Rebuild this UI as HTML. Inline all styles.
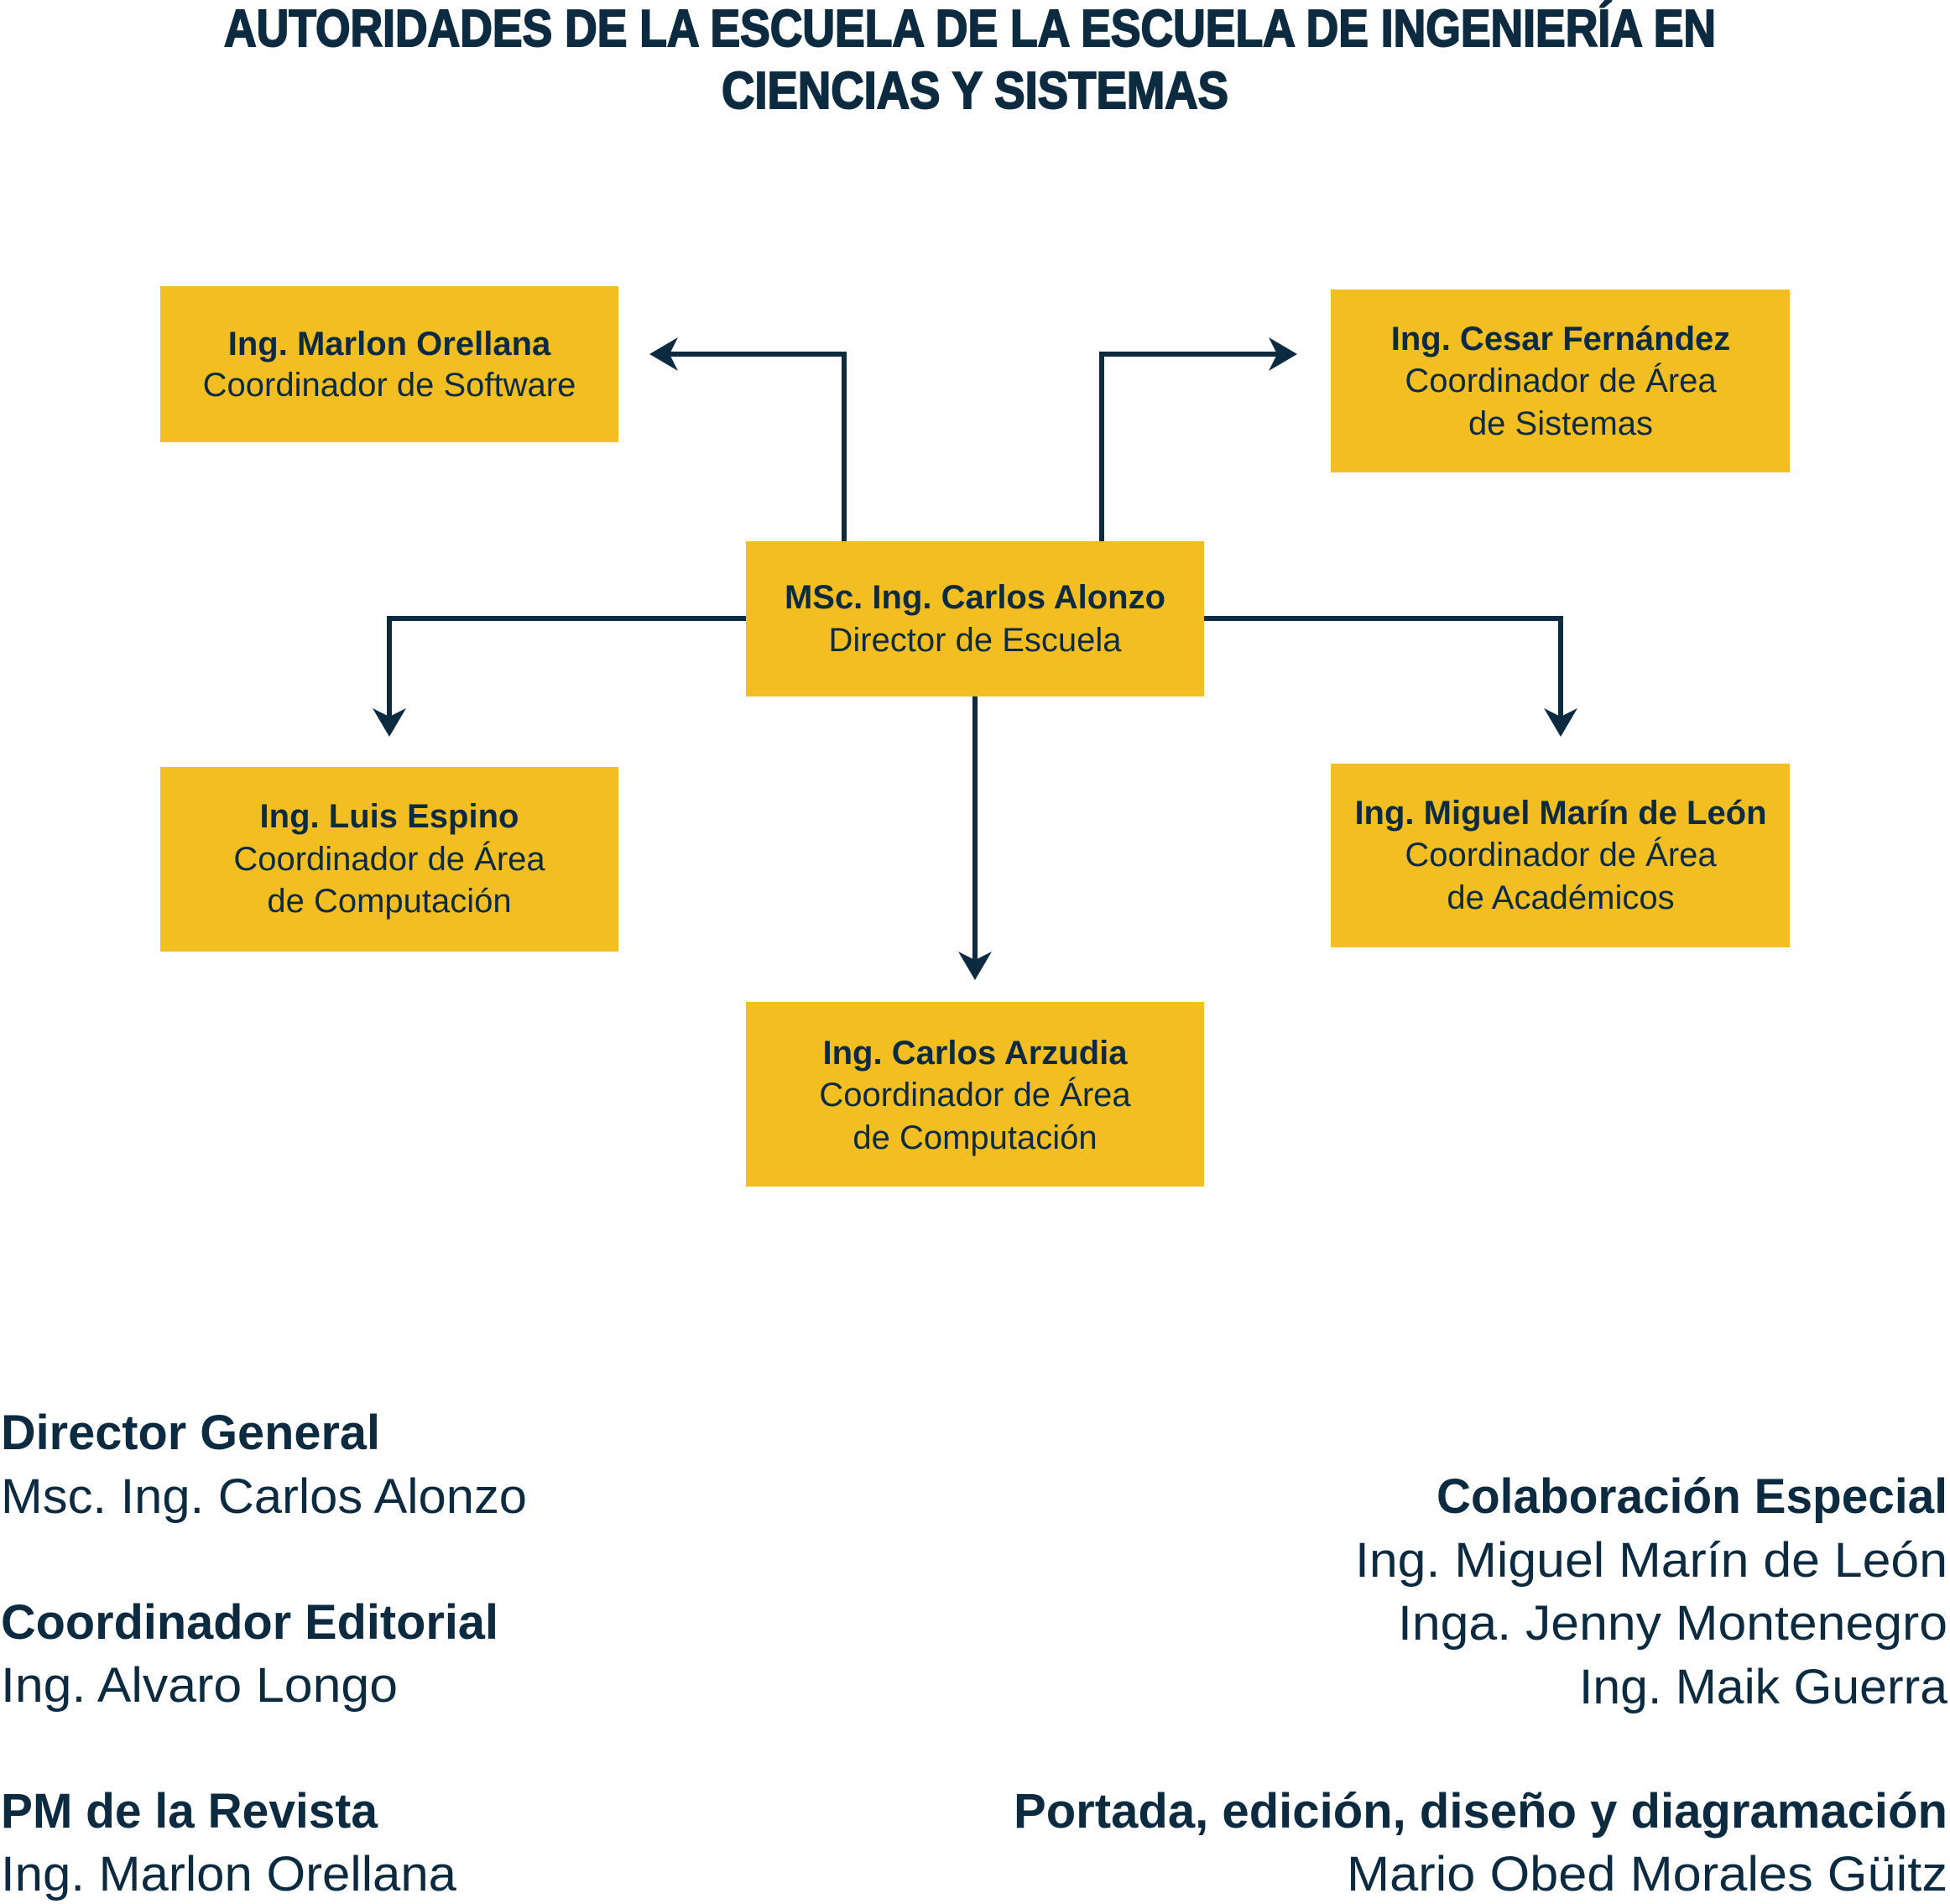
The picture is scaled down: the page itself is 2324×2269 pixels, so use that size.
<!DOCTYPE html>
<html><head><meta charset="utf-8"><style>
html,body{margin:0;padding:0;background:#fff}
svg{display:block}
.t{font-family:"Liberation Sans",sans-serif;fill:#0D2B40}
.b{font-weight:bold}
.n{font-weight:bold;font-size:40px}
.s{font-size:40px}
.h{font-weight:bold;font-size:58px}
.r{font-size:58px}
.ti{stroke:#0D2B40;stroke-width:2px}
</style></head><body>
<svg width="2324" height="2269" viewBox="0 0 2324 2269" xmlns="http://www.w3.org/2000/svg">
<text class="t b ti" x="267" y="55" font-size="62" textLength="1778" lengthAdjust="spacingAndGlyphs">AUTORIDADES DE LA ESCUELA DE LA ESCUELA DE INGENIERÍA EN</text>
<text class="t b ti" x="860" y="129" font-size="62" textLength="604" lengthAdjust="spacingAndGlyphs">CIENCIAS Y SISTEMAS</text>

<g fill="#F2BE22">
<rect x="191" y="341" width="546" height="186"/>
<rect x="1586" y="345" width="547" height="218"/>
<rect x="889" y="645" width="546" height="185"/>
<rect x="191" y="914" width="546" height="220"/>
<rect x="1586" y="910" width="547" height="219"/>
<rect x="889" y="1194" width="546" height="220"/>
</g>

<g stroke="#0D2B40" stroke-width="6" fill="none">
<polyline points="1006,645 1006,422 796,422"/>
<polyline points="1313,645 1313,422 1524,422"/>
<polyline points="889,737 464,737 464,856"/>
<polyline points="1435,737 1860,737 1860,856"/>
<polyline points="1162,830 1162,1148"/>
</g>
<g fill="#0D2B40">
<path d="M774,422 L808,402 L798,422 L808,442 Z"/>
<path d="M1546,422 L1512,402 L1522,422 L1512,442 Z"/>
<path d="M464,878 L444,844 L464,854 L484,844 Z"/>
<path d="M1860,878 L1840,844 L1860,854 L1880,844 Z"/>
<path d="M1162,1168 L1142,1134 L1162,1144 L1182,1134 Z"/>
</g>

<g class="t" text-anchor="middle">
<text class="n" x="464" y="423">Ing. Marlon Orellana</text>
<text class="s" x="464" y="472">Coordinador de Software</text>
<text class="n" x="1860" y="417">Ing. Cesar Fernández</text>
<text class="s" x="1860" y="467">Coordinador de Área</text>
<text class="s" x="1860" y="518">de Sistemas</text>
<text class="n" x="1162" y="725">MSc. Ing. Carlos Alonzo</text>
<text class="s" x="1162" y="776">Director de Escuela</text>
<text class="n" x="464" y="986">Ing. Luis Espino</text>
<text class="s" x="464" y="1037">Coordinador de Área</text>
<text class="s" x="464" y="1087">de Computación</text>
<text class="n" x="1860" y="982">Ing. Miguel Marín de León</text>
<text class="s" x="1860" y="1032">Coordinador de Área</text>
<text class="s" x="1860" y="1083">de Académicos</text>
<text class="n" x="1162" y="1268">Ing. Carlos Arzudia</text>
<text class="s" x="1162" y="1318">Coordinador de Área</text>
<text class="s" x="1162" y="1369">de Computación</text>
</g>

<g class="t">
<text class="h" x="1" y="1727" textLength="452" lengthAdjust="spacingAndGlyphs">Director General</text>
<text class="r" x="1" y="1803" textLength="627" lengthAdjust="spacingAndGlyphs">Msc. Ing. Carlos Alonzo</text>
<text class="h" x="1" y="1953" textLength="593" lengthAdjust="spacingAndGlyphs">Coordinador Editorial</text>
<text class="r" x="1" y="2028" textLength="473" lengthAdjust="spacingAndGlyphs">Ing. Alvaro Longo</text>
<text class="h" x="1" y="2178" textLength="449" lengthAdjust="spacingAndGlyphs">PM de la Revista</text>
<text class="r" x="1" y="2253" textLength="543" lengthAdjust="spacingAndGlyphs">Ing. Marlon Orellana</text>

<text class="h" x="1712" y="1803" textLength="609" lengthAdjust="spacingAndGlyphs">Colaboración Especial</text>
<text class="r" x="1615" y="1879" textLength="706" lengthAdjust="spacingAndGlyphs">Ing. Miguel Marín de León</text>
<text class="r" x="1666" y="1954" textLength="655" lengthAdjust="spacingAndGlyphs">Inga. Jenny Montenegro</text>
<text class="r" x="1882" y="2030" textLength="439" lengthAdjust="spacingAndGlyphs">Ing. Maik Guerra</text>
<text class="h" x="1208" y="2178" textLength="1113" lengthAdjust="spacingAndGlyphs">Portada, edición, diseño y diagramación</text>
<text class="r" x="1605" y="2253" textLength="716" lengthAdjust="spacingAndGlyphs">Mario Obed Morales Güitz</text>
</g>
</svg>
</body></html>
